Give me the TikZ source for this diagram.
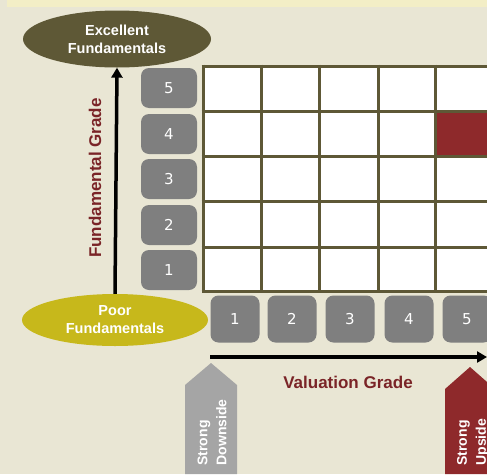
\documentclass[tikz,border=0pt]{standalone}
\usepackage{fontspec}
\setmainfont{Liberation Sans}
\newfontfamily\numfont{DejaVu Sans}
\usetikzlibrary{arrows.meta,shapes.geometric}
\definecolor{bgc}{HTML}{E9E6D4}
\definecolor{bandc}{HTML}{F3EEC6}
\definecolor{olive}{HTML}{5E5836}
\definecolor{yel}{HTML}{C7B81B}
\definecolor{boxg}{HTML}{7F7F7F}
\definecolor{redtxt}{HTML}{7A2427}
\definecolor{redc}{HTML}{8E292B}
\definecolor{lgray}{HTML}{A5A5A5}
\tikzset{
  ell/.style={ellipse, inner sep=0pt,
    text=white, font=\fontsize{14.5}{18}\selectfont\bfseries, align=center},
  gbox/.style={rounded corners=8pt, fill=boxg, text=white, inner sep=0pt,
    font=\numfont\fontsize{15}{17}\selectfont},
  rowbox/.style={gbox, minimum width=56pt, minimum height=40pt},
  colbox/.style={gbox, minimum width=49pt, minimum height=47pt},
  axarrow/.style={line width=3.5pt, -{Triangle[length=10pt,width=11pt]}},
  axlabel/.style={text=redtxt, font=\fontsize{17}{20}\selectfont\bfseries},
  gridline/.style={draw=olive, line width=3pt},
  tag/.style={text=white, font=\fontsize{14}{19}\selectfont\bfseries, align=left, rotate=90, anchor=west}
}
\begin{document}
\begin{tikzpicture}[x=1pt,y=-1pt]
\useasboundingbox (0,0) rectangle (487,474);
\fill[bgc] (0,0) rectangle (487,474);
\fill[bandc] (7,0) rectangle (487,7);
% ellipses
\node[ell, fill=olive, minimum width=188pt, minimum height=57pt] (exc) at (117,39) {Excellent\\Fundamentals};
\node[ell, fill=yel, minimum width=186pt, minimum height=52pt] (poor) at (115,320) {Poor\\Fundamentals};
% vertical axis
\draw[axarrow] (poor.north) -- (exc.south);
\node[axlabel, rotate=90] (fg) at (95,178) {Fundamental Grade};
% row labels
\foreach \n/\y in {5/88,4/134,3/179,2/225,1/270}{
  \node[rowbox] (r\n) at (169,\y) {\n};
}
% grid
\fill[white] (203,66) rectangle (493,291);
\fill[redc] (435,111) rectangle (493,156);
\foreach \x in {203,261,319,378,435}{
  \draw[gridline] (\x,64.5) -- (\x,292.5);
}
\foreach \y in {66,111,156,201,247,291}{
  \draw[gridline] (201.5,\y) -- (490,\y);
}
% column labels
\foreach \n/\x in {1/235,2/292,3/350,4/409,5/467}{
  \node[colbox] (c\n) at (\x,319) {\n};
}
% horizontal axis
\coordinate (hs) at (210,357);
\coordinate (he) at (487,357);
\draw[axarrow] (hs) -- (he);
\node[axlabel] (vg) at (348,382) {Valuation Grade};
% strong downside
\fill[lgray] (185,474) -- (185,385) -- (211,363) -- (237,385) -- (237,474) -- cycle;
\node[tag] (sd) at (212,469) {Strong\\Downside};
% strong upside
\fill[redc] (445,474) -- (445,389) -- (470,367) -- (495,389) -- (495,474) -- cycle;
\node[tag] (su) at (473,469) {Strong\\Upside};
\end{tikzpicture}
\end{document}
